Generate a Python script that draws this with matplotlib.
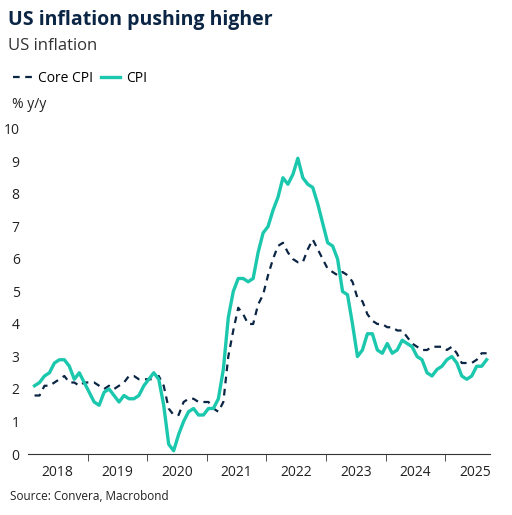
import matplotlib.pyplot as plt
import numpy as np

plt.rcParams['font.family'] = ['Open Sans', 'DejaVu Sans']

cpi = [2.1,2.2,2.4,2.5,2.8,2.9,2.9,2.7,2.3,2.5,2.2,1.9,
       1.6,1.5,1.9,2.0,1.8,1.6,1.8,1.7,1.7,1.8,2.1,2.3,
       2.5,2.3,1.5,0.3,0.1,0.6,1.0,1.3,1.4,1.2,1.2,1.4,
       1.4,1.7,2.6,4.2,5.0,5.4,5.4,5.3,5.4,6.2,6.8,7.0,
       7.5,7.9,8.5,8.3,8.6,9.1,8.5,8.3,8.2,7.7,7.1,6.5,
       6.4,6.0,5.0,4.9,4.0,3.0,3.2,3.7,3.7,3.2,3.1,3.4,
       3.1,3.2,3.5,3.4,3.3,3.0,2.9,2.5,2.4,2.6,2.7,2.9,
       3.0,2.8,2.4,2.3,2.4,2.7,2.7,2.9]
core = [1.8,1.8,2.1,2.1,2.2,2.3,2.4,2.2,2.2,2.1,2.2,2.2,
        2.2,2.1,2.0,2.1,2.0,2.1,2.2,2.4,2.4,2.3,2.3,2.3,
        2.3,2.4,2.1,1.4,1.2,1.2,1.6,1.7,1.7,1.6,1.6,1.6,
        1.4,1.3,1.6,3.0,3.8,4.5,4.3,4.0,4.0,4.6,4.9,5.5,
        6.0,6.4,6.5,6.2,6.0,5.9,5.9,6.3,6.6,6.3,6.0,5.7,
        5.6,5.5,5.6,5.5,5.3,4.8,4.7,4.3,4.1,4.0,4.0,3.9,
        3.9,3.8,3.8,3.6,3.4,3.3,3.2,3.2,3.3,3.3,3.3,3.2,
        3.3,3.1,2.8,2.8,2.8,2.9,3.1,3.1]
years = list(range(2018, 2026))
x = 2018 + np.arange(len(cpi)) / 12 + 0.11

navy = '#0b2545'
teal = '#1cc8ad'

fig = plt.figure(figsize=(5.12, 5.15), dpi=100)
ax = fig.add_axes([28/512, 1-454/515, (490-28)/512, (454-129)/515])
ax.plot(x, core, color=navy, lw=1.6, ls=(0, (3, 2.5)), label='Core CPI')
ax.plot(x, cpi, color=teal, lw=2.4, label='CPI')
ax.set_xlim(2018.0, 2025.75)
ax.set_ylim(0, 10)
ax.set_yticks(range(0, 11))
ax.set_xticks([y + 0.5 for y in years])
ax.set_xticklabels([str(y) for y in years])
ax.set_xticks(years[1:], minor=True)
ax.tick_params(axis='x', which='major', length=0, labelsize=10, colors='#222222', pad=8)
ax.tick_params(axis='x', which='minor', length=5, color='#333333')
ax.tick_params(axis='y', length=0, labelsize=10, colors='#222222', pad=6)
for s in ['top', 'right', 'left']:
    ax.spines[s].set_visible(False)
ax.spines['bottom'].set_color('#333333')

fig.text(8/512, 1-20/515, 'US inflation pushing higher', fontsize=14, fontweight='bold', color=navy, va='center')
fig.text(8/512, 1-46/515, 'US inflation', fontsize=12, color='#333333', va='center')
fig.text(12/512, 1-105/515, '% y/y', fontsize=10, color='#222222', va='center')
fig.text(10/512, 1-496/515, 'Source: Convera, Macrobond', fontsize=8.5, color='#222222', va='center')
fig.legend(loc='center left', bbox_to_anchor=(0/512, 1-78/515), ncol=2, frameon=False,
           fontsize=10, handlelength=1.4, handletextpad=0.4, columnspacing=0.6)
fig.savefig('out.png', dpi=100)
